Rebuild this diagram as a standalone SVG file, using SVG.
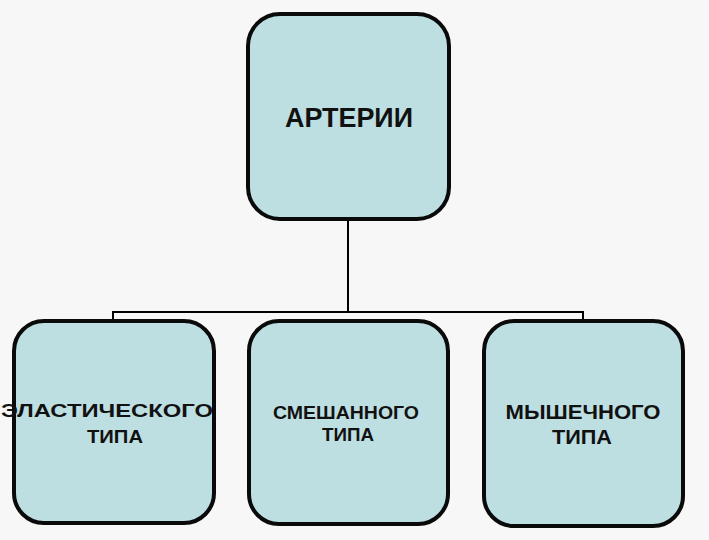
<svg xmlns="http://www.w3.org/2000/svg" width="709" height="540" viewBox="0 0 709 540">
<style>
.box{fill:#bddfe2;stroke:#0a0a0a;stroke-width:4}
.t{font-family:"Liberation Sans",Arial,sans-serif;font-weight:bold;fill:#111;text-anchor:middle}
.c{fill:none;stroke:#000;stroke-width:2}
</style>
<rect width="709" height="540" fill="#f7f7f7"/>
<g id="connectors">
<path class="c" d="M348 220V312M113 320V312H583V320"/>
</g>
<g id="arterii">
<rect class="box" x="248" y="14" width="201" height="205" rx="32"/>
<text class="t" x="349" y="127" font-size="27" textLength="128" lengthAdjust="spacingAndGlyphs">АРТЕРИИ</text>
</g>
<g id="elastic">
<rect class="box" x="14" y="321" width="200" height="202" rx="30"/>
<text class="t" x="107" y="417" font-size="19" textLength="212" lengthAdjust="spacingAndGlyphs">ЭЛАСТИЧЕСКОГО</text>
<text class="t" x="115" y="443" font-size="19" textLength="56" lengthAdjust="spacingAndGlyphs">ТИПА</text>
</g>
<g id="mixed">
<rect class="box" x="249" y="321" width="199" height="203" rx="30"/>
<text class="t" x="346" y="419" font-size="17.5" textLength="146" lengthAdjust="spacingAndGlyphs">СМЕШАННОГО</text>
<text class="t" x="348" y="441" font-size="17.5" textLength="52" lengthAdjust="spacingAndGlyphs">ТИПА</text>
</g>
<g id="muscular">
<rect class="box" x="484" y="321" width="199" height="205" rx="30"/>
<text class="t" x="583" y="419" font-size="19.5" textLength="155" lengthAdjust="spacingAndGlyphs">МЫШЕЧНОГО</text>
<text class="t" x="582" y="444" font-size="20" textLength="60" lengthAdjust="spacingAndGlyphs">ТИПА</text>
</g>
</svg>
